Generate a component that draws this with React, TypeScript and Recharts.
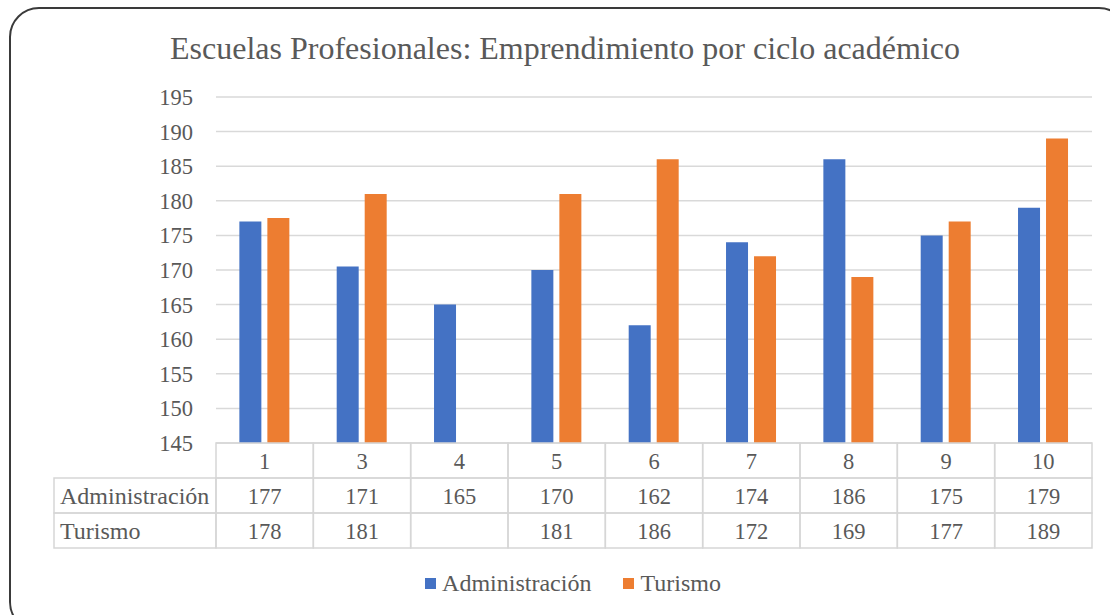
import React from "react";
import {
  BarChart,
  Bar,
  XAxis,
  YAxis,
  CartesianGrid,
  Legend,
} from "recharts";

const categories = ["1", "3", "4", "5", "6", "7", "8", "9", "10"];
const administracion = [177, 170.5, 165, 170, 162, 174, 186, 175, 179];
const turismo = [177.5, 181, null, 181, 186, 172, 169, 177, 189];
const yTicks = [145, 150, 155, 160, 165, 170, 175, 180, 185, 190, 195];

const SERIES = [
  { key: "administracion", name: "Administración", color: "#4472C4", values: administracion },
  { key: "turismo", name: "Turismo", color: "#ED7D31", values: turismo },
];

const data = categories.map((c, i) => ({
  ciclo: c,
  administracion: administracion[i],
  turismo: turismo[i],
}));

const W = 1110;
const H = 615;
const MARGIN = { top: 97, right: 18, bottom: 17, left: 0 };
const YAXIS_W = 216;
const XAXIS_H = 125;
const ROW_H = 35;
const LABEL_COL_W = 162;
const FONT = "'Liberation Serif', 'Times New Roman', serif";
const TEXT = "#595959";
const BORDER = "#d6d6d6";

const band = (W - MARGIN.left - MARGIN.right - YAXIS_W) / categories.length;

function TableTick(props: any) {
  const { x, y, payload } = props;
  const idx = payload.index;
  const left = x - band / 2;
  const rows = [
    categories[idx],
    ...SERIES.map((s) => (s.values[idx] == null ? "" : String(Math.round(s.values[idx] as number)))),
  ];
  return (
    <g>
      {rows.map((t, r) => (
        <g key={r}>
          <rect
            x={left}
            y={y + r * ROW_H}
            width={band}
            height={ROW_H}
            fill="none"
            stroke={BORDER}
            strokeWidth={1.5}
          />
          <text
            x={x}
            y={y + r * ROW_H + ROW_H / 2 + 8}
            textAnchor="middle"
            fontSize={22.5}
            fontFamily={FONT}
            fill={TEXT}
          >
            {t}
          </text>
        </g>
      ))}
      {idx === 0 &&
        SERIES.map((s, r) => (
          <g key={s.key}>
            <rect
              x={left - LABEL_COL_W}
              y={y + (r + 1) * ROW_H}
              width={LABEL_COL_W}
              height={ROW_H}
              fill="none"
              stroke={BORDER}
              strokeWidth={1.5}
            />
            <text
              x={left - LABEL_COL_W + 6}
              y={y + (r + 1) * ROW_H + ROW_H / 2 + 8}
              fontSize={24}
              fontFamily={FONT}
              fill={TEXT}
            >
              {s.name}
            </text>
          </g>
        ))}
    </g>
  );
}

function LegendContent() {
  return (
    <div
      style={{
        height: 30,
        display: "flex",
        justifyContent: "center",
        alignItems: "center",
        paddingLeft: 86,
        fontFamily: FONT,
        fontSize: 24,
        color: TEXT,
      }}
    >
      {SERIES.map((s) => (
        <span key={s.key} style={{ display: "flex", alignItems: "center", marginRight: 32 }}>
          <span style={{ width: 11, height: 11, background: s.color, marginRight: 6 }} />
          {s.name}
        </span>
      ))}
    </div>
  );
}

export default function App() {
  return (
    <div
      style={{
        position: "fixed",
        left: 0,
        top: 0,
        width: W,
        height: H,
        background: "#fff",
        overflow: "hidden",
      }}
    >
      <div
        style={{
          position: "absolute",
          left: 9,
          top: 7,
          width: W + 10,
          height: H + 10,
          border: "2.5px solid #3a3a3a",
          borderRadius: 30,
          boxSizing: "border-box",
        }}
      />
      <div
        style={{
          position: "absolute",
          left: 0,
          top: 29,
          width: 1130,
          textAlign: "center",
          fontFamily: FONT,
          fontSize: 32,
          color: TEXT,
          lineHeight: "38px",
        }}
      >
        Escuelas Profesionales: Emprendimiento por ciclo académico
      </div>
      <BarChart
        width={W}
        height={H}
        data={data}
        margin={MARGIN}
        barCategoryGap="24%"
        barGap={6}
      >
        <CartesianGrid vertical={false} stroke="#d9d9d9" strokeWidth={1.5} />
        <XAxis
          dataKey="ciclo"
          type="category"
          height={XAXIS_H}
          interval={0}
          axisLine={false}
          tickLine={false}
          tickSize={0}
          tickMargin={0}
          tick={(p: any) => <TableTick {...p} />}
        />
        <YAxis
          width={YAXIS_W}
          domain={[145, 195]}
          ticks={yTicks}
          allowDataOverflow
          axisLine={false}
          tickLine={false}
          tickSize={6}
          tickMargin={17}
          tick={{ fontSize: 22.5, fontFamily: FONT, fill: TEXT }}
        />
        <Legend verticalAlign="bottom" content={() => <LegendContent />} />
        {SERIES.map((s) => (
          <Bar key={s.key} dataKey={s.key} name={s.name} fill={s.color} isAnimationActive={false} />
        ))}
      </BarChart>
    </div>
  );
}
